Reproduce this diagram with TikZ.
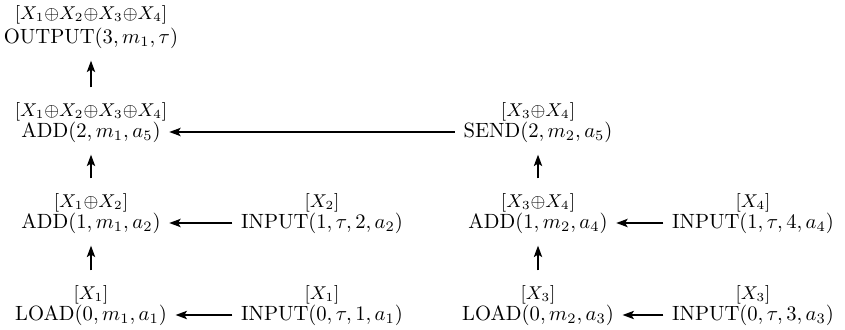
\documentclass[tikz,border=0pt]{standalone}
\usetikzlibrary{arrows.meta}
\newcommand{\xop}{\mathord{\oplus}}
\begin{document}
\begin{tikzpicture}[x=0.485pt,y=-0.485pt,
  op/.style={inner xsep=4pt, inner ysep=5.8pt, text height=7.5pt, text depth=2.5pt},
  lbl/.style={font=\small, inner sep=0pt, inner ysep=7.3pt, text height=6.75pt, text depth=2.25pt},
  arr/.style={-{Stealth[length=5.5pt,width=4pt,inset=1.2pt]}, line width=0.9pt}]
\useasboundingbox (0,0) rectangle (845,330);
% left column
\node[op]  (out)   at (91,38)  {OUTPUT$(3, m_1, \tau)$};
\node[lbl] (outL)  at (91,15)  {$[X_1\xop X_2\xop X_3\xop X_4]$};
\node[op]  (addB)  at (91,132) {ADD$(2, m_1, a_5)$};
\node[lbl] (addBL) at (91,112) {$[X_1\xop X_2\xop X_3\xop X_4]$};
\node[op]  (addA)  at (91,223) {ADD$(1, m_1, a_2)$};
\node[lbl] (addAL) at (91,203) {$[X_1\xop X_2]$};
\node[op]  (ldA)   at (91,315) {LOAD$(0, m_1, a_1)$};
\node[lbl] (ldAL)  at (91,295) {$[X_1]$};
% inputs left
\node[op]  (inB)   at (322,223) {INPUT$(1, \tau, 2, a_2)$};
\node[lbl] (inBL)  at (322,203) {$[X_2]$};
\node[op]  (inA)   at (322,315) {INPUT$(0, \tau, 1, a_1)$};
\node[lbl] (inAL)  at (322,295) {$[X_1]$};
% right column
\node[op]  (send)  at (538,132) {SEND$(2, m_2, a_5)$};
\node[lbl] (sendL) at (538,112) {$[X_3\xop X_4]$};
\node[op]  (addC)  at (538,223) {ADD$(1, m_2, a_4)$};
\node[lbl] (addCL) at (538,203) {$[X_3\xop X_4]$};
\node[op]  (ldB)   at (538,315) {LOAD$(0, m_2, a_3)$};
\node[lbl] (ldBL)  at (538,295) {$[X_3]$};
% inputs right
\node[op]  (inD)   at (753,223) {INPUT$(1, \tau, 4, a_4)$};
\node[lbl] (inDL)  at (753,203) {$[X_4]$};
\node[op]  (inC)   at (753,315) {INPUT$(0, \tau, 3, a_3)$};
\node[lbl] (inCL)  at (753,295) {$[X_3]$};
% vertical arrows
\draw[arr] (addBL.north) -- (out.south);
\draw[arr] (addAL.north) -- (addB.south);
\draw[arr] (ldAL.north) -- (addA.south);
\draw[arr] (addCL.north) -- (send.south);
\draw[arr] (ldBL.north) -- (addC.south);
% horizontal arrows
\draw[arr] (send.west) -- (addB.east);
\draw[arr] (inB.west) -- (addA.east);
\draw[arr] (inA.west) -- (ldA.east);
\draw[arr] (inD.west) -- (addC.east);
\draw[arr] (inC.west) -- (ldB.east);
\end{tikzpicture}
\end{document}
